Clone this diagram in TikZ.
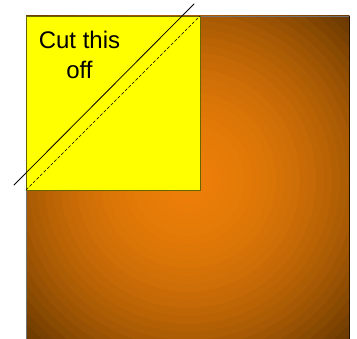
\documentclass[tikz,border=0pt]{standalone}
\usepackage{fontspec}
\setmainfont{Liberation Sans}
\definecolor{glowinner}{RGB}{236,126,8}
\definecolor{glowouter}{RGB}{108,58,0}
\definecolor{paper}{RGB}{255,255,0}
\begin{document}
\begin{tikzpicture}[x=1pt, y=-1pt, line cap=round, every node/.style={font=\fontsize{24}{30}\selectfont}]
	\useasboundingbox (0,0) rectangle (357,339);
	% shaded square, drawn as rings
	\begin{scope}
		\clip (26,16) rectangle (349,339);
		\foreach \r in {232,224,...,8} {
			\pgfmathsetmacro{\p}{min(100,100*(\r/228)^2)}
			\fill[glowouter!\p!glowinner] (188,180) circle[radius=\r];
		}
	\end{scope}
	\draw[black!55, line width=0.8pt] (26,339) -- (26,16) -- (349,16);
	\draw[black!70!glowouter, line width=1pt] (349,16) -- (349,339);
	% paper corner
	\coordinate (tl) at (26,16);
	\coordinate (br) at (200,190);
	\coordinate (bl) at (26,190);
	\coordinate (tr) at (200,16);
	\fill[paper] (tl) rectangle (br);
	\draw[black!60!paper, line width=0.8pt] (tl) rectangle (br);
	% cut lines
	\coordinate (cutstart) at (14,185);
	\coordinate (cutend) at (194,4);
	\draw[line width=0.8pt] (cutstart) -- (cutend);
	\draw[dashed, dash pattern=on 3pt off 2pt, line width=0.5pt] (bl) -- (tr);
	% label
	\node[align=center, anchor=base] (label) at (79.5,78.3) {Cut this\\off};
\end{tikzpicture}
\end{document}
